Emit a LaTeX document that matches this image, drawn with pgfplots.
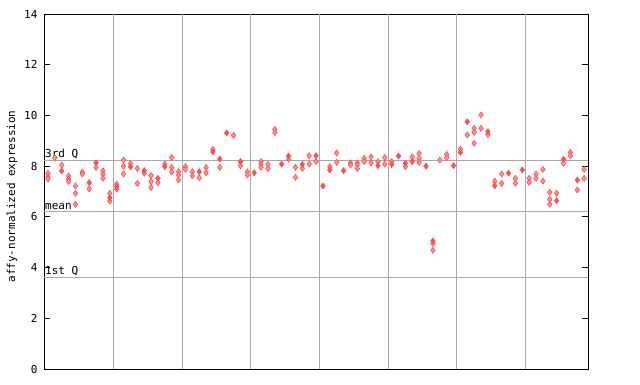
\documentclass[border=0pt]{standalone}
\usepackage{fontspec}
\setmainfont{DejaVu Sans Mono}
\usepackage{pgfplots}
\pgfplotsset{compat=1.18}
\definecolor{pt}{RGB}{255,80,80}
\definecolor{ptl}{RGB}{255,145,145}
\definecolor{grd}{RGB}{170,170,170}
\begin{document}
\begin{tikzpicture}[x=1pt,y=1pt]
\path[use as bounding box] (0,0) rectangle (640,384);
\node[rotate=90, font=\fontsize{11}{11}\selectfont] at (12,187.5) {affy-normalized expression};
\begin{axis}[at={(44pt,15pt)}, anchor=south west, scale only axis,
  width=544pt, height=355pt, xmin=0.42, xmax=79.56, ymin=0, ymax=14,
  xtick=\empty, ytick={0,2,...,14}, ytick pos=both, tick align=inside,
  major tick length=6pt, tick style={black, line width=1pt},
  axis line style={black, line width=1pt},
  yticklabel style={font=\fontsize{11}{11}\selectfont, xshift=-3pt},
  /pgf/number format/assume math mode=true, clip=false]
\pgfplotsinvokeforeach{10.5,20.5,30.5,40.5,50.5,60.5,70.5}{
  \addplot[grd, line width=1pt, forget plot] coordinates {(#1,0) (#1,14)};
}
\addplot[grd, line width=1pt] coordinates {(0.42,8.23) (79.56,8.23)};
\addplot[grd, line width=1pt] coordinates {(0.42,6.23) (79.56,6.23)};
\addplot[grd, line width=1pt] coordinates {(0.42,3.62) (79.56,3.62)};
\addplot[only marks, mark=diamond*, mark size=3pt, mark options={fill=ptl, draw=pt, line width=0.6pt}] coordinates {
(1,7.72)(1,7.58)(1,7.49)(2,8.33)(3,8.04)(4,7.61)(4,7.49)(4,7.39)(5,7.22)(5,6.93)(5,6.49)(6,7.77)(6,7.69)(7,7.10)(8,7.95)(9,7.81)(9,7.68)(9,7.52)(10,6.93)(10,6.62)(11,7.29)(11,7.09)(12,8.24)(12,8.0)(12,7.69)(13,8.1)(14,7.91)(14,7.32)(15,7.72)(16,7.63)(16,7.39)(16,7.16)(17,7.35)(18,8.08)(19,8.34)(19,7.95)(19,7.77)(20,7.78)(20,7.65)(20,7.45)(21,7.98)(21,7.87)(22,7.78)(22,7.62)(23,7.54)(24,7.95)(24,7.74)(25,8.66)(26,7.95)(28,9.21)(29,8.02)(30,7.78)(30,7.65)(32,8.18)(32,8.07)(32,7.95)(33,8.07)(33,7.90)(34,9.45)(34,9.32)(36,8.27)(37,7.95)(37,7.56)(38,7.91)(39,8.41)(39,8.08)(40,8.18)(42,7.98)(43,8.52)(43,8.15)(45,8.13)(45,8.04)(46,8.13)(46,8.04)(46,7.91)(47,8.31)(47,8.18)(48,8.37)(48,8.13)(49,8.18)(50,8.34)(50,8.08)(51,8.18)(53,7.98)(54,8.37)(55,8.5)(55,8.31)(55,8.15)(57,4.95)(57,4.68)(58,8.24)(59,8.46)(59,8.34)(61,8.67)(62,9.23)(63,9.49)(63,9.33)(63,8.90)(64,10.02)(64,9.49)(65,9.25)(66,7.41)(67,7.69)(67,7.32)(69,7.52)(69,7.32)(71,7.52)(71,7.36)(72,7.69)(72,7.52)(73,7.87)(73,7.41)(74,6.97)(74,6.69)(74,6.49)(75,6.93)(76,8.11)(77,8.54)(77,8.41)(78,7.06)(79,7.87)(79,7.52)
};
\addplot[only marks, mark=diamond*, mark size=3pt, mark options={fill=pt, draw=pt, line width=0.6pt}] coordinates {
(3,7.81)(7,7.35)(8,8.13)(10,6.75)(11,7.19)(13,7.98)(15,7.82)(17,7.52)(18,7.98)(23,7.78)(25,8.56)(26,8.28)(27,9.31)(29,8.18)(31,7.74)(35,8.08)(36,8.40)(38,8.07)(40,8.41)(41,7.22)(42,7.85)(44,7.82)(49,8.02)(51,8.07)(52,8.40)(53,8.11)(54,8.18)(56,8.0)(57,5.05)(60,8.02)(61,8.54)(62,9.75)(65,9.36)(66,7.23)(68,7.72)(70,7.85)(75,6.64)(76,8.27)(78,7.45)
};
\node[anchor=south west, inner sep=0pt, xshift=1pt, yshift=1pt, font=\fontsize{11}{11}\selectfont] at (axis cs:0.42,8.23) {3rd Q};
\node[anchor=south west, inner sep=0pt, xshift=1pt, yshift=1pt, font=\fontsize{11}{11}\selectfont] at (axis cs:0.42,6.23) {mean};
\node[anchor=south west, inner sep=0pt, xshift=1pt, yshift=1pt, font=\fontsize{11}{11}\selectfont] at (axis cs:0.42,3.62) {1st Q};
\end{axis}
\end{tikzpicture}
\end{document}
